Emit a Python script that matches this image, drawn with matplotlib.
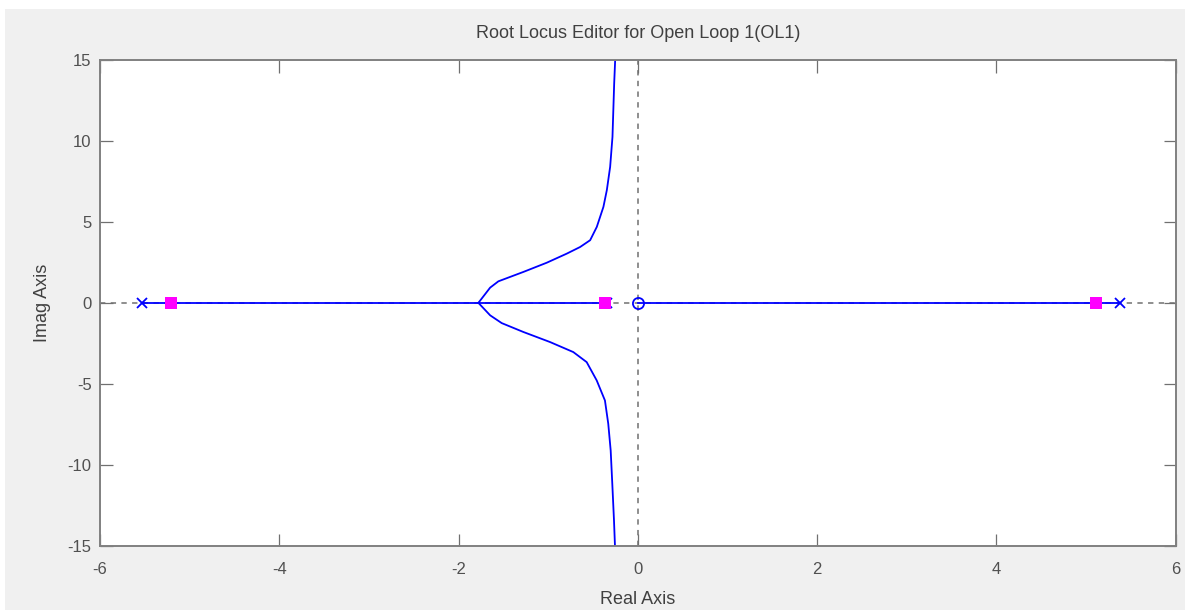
import matplotlib
matplotlib.use("Agg")
import matplotlib.pyplot as plt
from matplotlib.patches import Rectangle

plt.rcParams['font.family'] = ['Liberation Sans', 'DejaVu Sans']

# Root locus data (real, imaginary) for the complex branches
upper_re = [-1.778, -1.647, -1.555, -1.276, -1.015, -0.792, -0.643, -0.531,
            -0.457, -0.383, -0.345, -0.308, -0.282, -0.263, -0.252]
upper_im = [0.0, 0.94, 1.33, 1.91, 2.48, 3.04, 3.45, 3.87,
            4.69, 5.93, 6.96, 8.40, 10.25, 13.55, 15.0]
lower_re = [-1.778, -1.647, -1.518, -1.276, -0.979, -0.719, -0.570, -0.458,
            -0.366, -0.329, -0.302, -0.284, -0.265, -0.254]
lower_im = [0.0, -0.77, -1.25, -1.80, -2.42, -3.04, -3.66, -4.79,
            -6.03, -7.47, -9.12, -11.18, -13.45, -15.04]

# Real-axis segments of the locus
real_segments = [(-5.53, -0.34), (0.0, 5.38)]

# Open-loop poles and zeros, closed-loop poles
ol_poles = [-5.53, -0.34, 5.38]
ol_zeros = [0.0]
cl_poles = [-5.21, -0.37, 5.115]

x_ticks = [-6, -4, -2, 0, 2, 4, 6]
y_ticks = [-15, -10, -5, 0, 5, 10, 15]

W, H = 1185, 610
fig = plt.figure(figsize=(W / 100, H / 100), dpi=100, facecolor='white')
fig.patches.append(Rectangle((5 / W, 0), 1 - 5 / W, 1 - 9 / H,
                             transform=fig.transFigure, facecolor='#f0f0f0',
                             edgecolor='none', zorder=-10))

ax = fig.add_axes([100 / W, (H - 545.7) / H, 1075.5 / W, 485.7 / H])
ax.set_facecolor('white')

ax.set_xlim(-6, 6)
ax.set_ylim(-15, 15)

# Dashed reference axes
ax.axhline(0, color='#707070', lw=1.1, ls=(0, (3.5, 3.5)), zorder=1)
ax.axvline(0, color='#707070', lw=1.1, ls=(0, (3.5, 3.5)), zorder=1)

blue = '#0000ff'
for a, b in real_segments:
    ax.plot([a, b], [0, 0], color=blue, lw=1.3, zorder=2)
ax.plot(upper_re, upper_im, color=blue, lw=1.3, zorder=2)
ax.plot(lower_re, lower_im, color=blue, lw=1.3, zorder=2)

ax.plot(ol_poles, [0] * len(ol_poles), ls='none', marker='x', ms=7,
        mew=1.3, color=blue, zorder=3)
ax.plot(ol_zeros, [0] * len(ol_zeros), ls='none', marker='o', ms=8,
        mew=1.3, mfc='none', mec=blue, zorder=3)
ax.plot(cl_poles, [0] * len(cl_poles), ls='none', marker='s', ms=9,
        mew=0, color='#ff00ff', zorder=4)

ax.set_xticks(x_ticks)
ax.set_yticks(y_ticks)
ax.set_xticklabels([str(v) for v in x_ticks])
ax.set_yticklabels([str(v) for v in y_ticks])
ax.tick_params(direction='in', length=9, width=0.9, color='#707070',
               labelcolor='#505050', labelsize=12, top=True, right=True)
ax.tick_params(axis='x', pad=12)
ax.tick_params(axis='y', pad=6)

for s in ax.spines.values():
    s.set_color('#808080')
    s.set_linewidth(1.4)

ax.set_title('Root Locus Editor for Open Loop 1(OL1)', fontsize=13,
             color='#404040', pad=15.5)
ax.set_xlabel('Real Axis', fontsize=13, color='#404040', labelpad=10)
ax.set_ylabel('Imag Axis', fontsize=13, color='#404040', labelpad=12)

fig.savefig('out.png', dpi=100, facecolor=fig.get_facecolor())
